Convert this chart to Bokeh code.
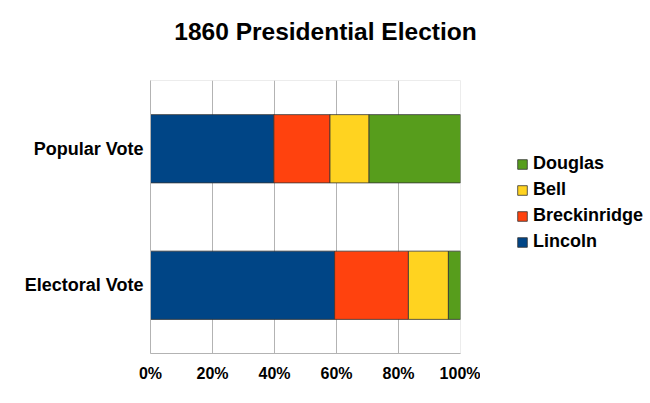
from bokeh.plotting import figure
from bokeh.models import (ColumnDataSource, FactorRange, Range1d, FixedTicker,
                          Legend, LegendItem, Label)
from bokeh.layouts import row, column
from bokeh.embed import file_html
from bokeh.resources import INLINE

# ---- data ----
categories = ["Electoral Vote", "Popular Vote"]
candidates = ["Lincoln", "Breckinridge", "Bell", "Douglas"]
lincoln = [59.4, 39.8]
breckinridge = [23.8, 18.1]
bell = [12.9, 12.6]
douglas = [3.9, 29.5]
colors = ["#004586", "#ff420e", "#ffd320", "#579d1c"]
x_ticks = [0, 20, 40, 60, 80, 100]
x_tick_labels = ["0%", "20%", "40%", "60%", "80%", "100%"]
title_text = "1860 Presidential Election"

source = ColumnDataSource(dict(cat=categories, Lincoln=lincoln,
                               Breckinridge=breckinridge, Bell=bell,
                               Douglas=douglas))

FONT = "Liberation Sans"
OUTLINE = "#333333"


def bare(fig):
    fig.xgrid.grid_line_color = None
    fig.ygrid.grid_line_color = None
    fig.outline_line_color = None
    return fig


# ---- title strip ----
p0 = bare(figure(width=650, height=80, output_backend="svg", toolbar_location=None,
                 x_range=Range1d(0, 650), y_range=Range1d(80, 0), min_border=0,
                 x_axis_type=None, y_axis_type=None))
p0.add_layout(Label(x=325, y=31, text=title_text, text_align="center",
                    text_baseline="alphabetic", text_font=FONT,
                    text_font_style="bold", text_font_size="24.5px",
                    text_color="black"))

# ---- main chart ----
p = figure(width=480, height=323, output_backend="svg", toolbar_location=None,
           y_range=FactorRange(factors=categories, range_padding=0),
           x_range=Range1d(0, 100),
           min_border_left=150, min_border_right=20,
           min_border_top=0, min_border_bottom=50)

p.hbar_stack(candidates, y="cat", height=0.5, color=colors,
             source=source, line_color=OUTLINE, line_width=0.8)

p.xaxis.ticker = FixedTicker(ticks=x_ticks)
p.xaxis.major_label_overrides = {t: l for t, l in zip(x_ticks, x_tick_labels)}
p.xaxis.major_tick_out = 0
p.xaxis.major_tick_in = 0
p.xaxis.minor_tick_out = 0
p.xaxis.minor_tick_in = 0
p.xaxis.major_label_standoff = 11
p.xaxis.axis_line_color = "#b3b3b3"
p.yaxis.axis_line_color = "#b3b3b3"
p.yaxis.major_tick_out = 0
p.yaxis.major_tick_in = 0
p.yaxis.major_label_standoff = 7
for ax, size in ((p.xaxis, "16px"), (p.yaxis, "18px")):
    ax.major_label_text_font = FONT
    ax.major_label_text_font_style = "bold"
    ax.major_label_text_font_size = size
    ax.major_label_text_color = "black"

p.xgrid.grid_line_color = "#b3b3b3"
p.xgrid.ticker = FixedTicker(ticks=x_ticks)
p.ygrid.grid_line_color = None
p.outline_line_color = "#ececec"

# ---- legend panel ----
p2 = bare(figure(width=170, height=323, output_backend="svg", toolbar_location=None,
                 x_range=Range1d(200, 300),
                 y_range=FactorRange(factors=categories, range_padding=0),
                 min_border=0, x_axis_type=None, y_axis_type=None))
# hidden copies of the stacked bars; they only supply the legend swatches
proxies = p2.hbar_stack(candidates, y="cat", height=0.5, color=colors,
                        source=source, line_color=OUTLINE, line_width=0.8)
for r in proxies:
    r.visible = False
items = [LegendItem(label=c, renderers=[r]) for c, r in zip(candidates, proxies)]
legend = Legend(items=items[::-1], location=(36, 101), margin=0, padding=0,
                border_line_alpha=0, background_fill_alpha=0,
                inactive_fill_alpha=0,
                glyph_width=12, glyph_height=12, label_standoff=5,
                label_height=20, spacing=5,
                label_text_font=FONT, label_text_font_style="bold",
                label_text_font_size="18px", label_text_color="black")
p2.add_layout(legend, "center")

layout = column(p0, row(p, p2))
open("out.html", "w").write(file_html(layout, INLINE))
